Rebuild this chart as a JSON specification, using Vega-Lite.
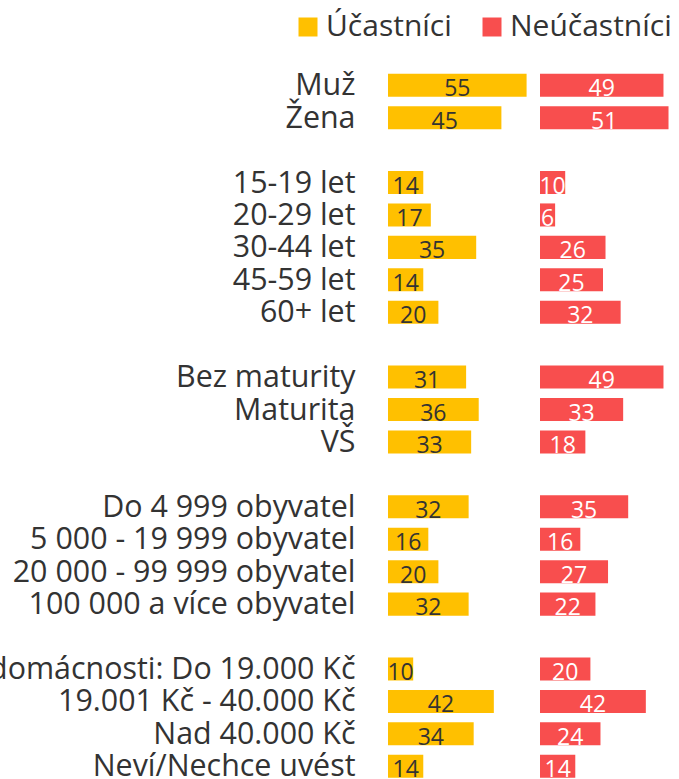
{
  "$schema": "https://vega.github.io/schema/vega-lite/v6.json",
  "autosize": {"type": "none"},
  "padding": {"left": 388, "top": 69, "right": 0, "bottom": 0},
  "width": 291,
  "height": 713.5,
  "config": {"view": {"stroke": null}, "font": "Open Sans"},
  "data": {"values": [
    {"cat": "Muž", "s": "Účastníci", "v": 55}, {"cat": "Muž", "s": "Neúčastníci", "v": 49},
    {"cat": "Žena", "s": "Účastníci", "v": 45}, {"cat": "Žena", "s": "Neúčastníci", "v": 51},
    {"cat": "15-19 let", "s": "Účastníci", "v": 14}, {"cat": "15-19 let", "s": "Neúčastníci", "v": 10},
    {"cat": "20-29 let", "s": "Účastníci", "v": 17}, {"cat": "20-29 let", "s": "Neúčastníci", "v": 6},
    {"cat": "30-44 let", "s": "Účastníci", "v": 35}, {"cat": "30-44 let", "s": "Neúčastníci", "v": 26},
    {"cat": "45-59 let", "s": "Účastníci", "v": 14}, {"cat": "45-59 let", "s": "Neúčastníci", "v": 25},
    {"cat": "60+ let", "s": "Účastníci", "v": 20}, {"cat": "60+ let", "s": "Neúčastníci", "v": 32},
    {"cat": "Bez maturity", "s": "Účastníci", "v": 31}, {"cat": "Bez maturity", "s": "Neúčastníci", "v": 49},
    {"cat": "Maturita", "s": "Účastníci", "v": 36}, {"cat": "Maturita", "s": "Neúčastníci", "v": 33},
    {"cat": "VŠ", "s": "Účastníci", "v": 33}, {"cat": "VŠ", "s": "Neúčastníci", "v": 18},
    {"cat": "Do 4 999 obyvatel", "s": "Účastníci", "v": 32}, {"cat": "Do 4 999 obyvatel", "s": "Neúčastníci", "v": 35},
    {"cat": "5 000 - 19 999 obyvatel", "s": "Účastníci", "v": 16}, {"cat": "5 000 - 19 999 obyvatel", "s": "Neúčastníci", "v": 16},
    {"cat": "20 000 - 99 999 obyvatel", "s": "Účastníci", "v": 20}, {"cat": "20 000 - 99 999 obyvatel", "s": "Neúčastníci", "v": 27},
    {"cat": "100 000 a více obyvatel", "s": "Účastníci", "v": 32}, {"cat": "100 000 a více obyvatel", "s": "Neúčastníci", "v": 22},
    {"cat": "Příjem domácnosti: Do 19.000 Kč", "s": "Účastníci", "v": 10}, {"cat": "Příjem domácnosti: Do 19.000 Kč", "s": "Neúčastníci", "v": 20},
    {"cat": "19.001 Kč - 40.000 Kč", "s": "Účastníci", "v": 42}, {"cat": "19.001 Kč - 40.000 Kč", "s": "Neúčastníci", "v": 42},
    {"cat": "Nad 40.000 Kč", "s": "Účastníci", "v": 34}, {"cat": "Nad 40.000 Kč", "s": "Neúčastníci", "v": 24},
    {"cat": "Neví/Nechce uvést", "s": "Účastníci", "v": 14}, {"cat": "Neví/Nechce uvést", "s": "Neúčastníci", "v": 14}
  ]},
  "encoding": {
    "y": {
      "field": "cat", "type": "nominal", "sort": null,
      "scale": {
        "domain": ["Muž", "Žena", " ", "15-19 let", "20-29 let", "30-44 let", "45-59 let", "60+ let", "  ", "Bez maturity", "Maturita", "VŠ", "   ", "Do 4 999 obyvatel", "5 000 - 19 999 obyvatel", "20 000 - 99 999 obyvatel", "100 000 a více obyvatel", "    ", "Příjem domácnosti: Do 19.000 Kč", "19.001 Kč - 40.000 Kč", "Nad 40.000 Kč", "Neví/Nechce uvést"],
        "paddingInner": 0.29, "paddingOuter": 0.145
      },
      "axis": {"title": null, "domain": false, "ticks": false, "labelFontSize": 30.4, "labelFont": "Open Sans", "labelColor": "#333333", "labelPadding": 33, "labelBaseline": "alphabetic", "labelOffset": 10, "labelLimit": 2000, "labelOverlap": false}
    }
  },
  "layer": [
    {
      "transform": [{"filter": "datum.s === 'Účastníci'"}],
      "layer": [
        {
          "mark": {"type": "bar"},
          "encoding": {
            "x": {"field": "v", "type": "quantitative", "scale": {"domain": [0, 115.48], "nice": false, "zero": false}, "axis": null},
            "color": {"field": "s", "type": "nominal", "scale": {"domain": ["Účastníci", "Neúčastníci"], "range": ["#FFC000", "#F84E4E"]},
              "legend": {"title": null, "orient": "none", "legendX": -95, "legendY": -57, "direction": "horizontal", "symbolType": "square", "symbolSize": 361, "symbolStrokeWidth": 0, "symbolOpacity": 1, "labelFontSize": 30, "labelFont": "Open Sans", "labelColor": "#333333", "labelOffset": 3, "labelLimit": 400, "columnPadding": 25, "padding": 0}}
          }
        },
        {
          "transform": [{"calculate": "datum.v / 2", "as": "mid"}],
          "mark": {"type": "text", "fontSize": 23, "color": "#333333", "baseline": "alphabetic", "dy": 11, "align": "center"},
          "encoding": {
            "x": {"field": "mid", "type": "quantitative", "scale": {"domain": [0, 115.48], "nice": false, "zero": false}, "axis": null},
            "text": {"field": "v", "type": "quantitative"}
          }
        }
      ]
    },
    {
      "transform": [{"filter": "datum.s === 'Neúčastníci'"}],
      "layer": [
        {
          "mark": {"type": "bar"},
          "encoding": {
            "x": {"field": "v", "type": "quantitative", "scale": {"domain": [-60.32, 55.16], "nice": false, "zero": false}, "axis": null},
            "color": {"field": "s", "type": "nominal"}
          }
        },
        {
          "transform": [{"calculate": "datum.v / 2", "as": "mid"}],
          "mark": {"type": "text", "fontSize": 23, "color": "#FFFFFF", "baseline": "alphabetic", "dy": 11, "align": "center"},
          "encoding": {
            "x": {"field": "mid", "type": "quantitative", "scale": {"domain": [-60.32, 55.16], "nice": false, "zero": false}, "axis": null},
            "text": {"field": "v", "type": "quantitative"}
          }
        }
      ]
    }
  ],
  "resolve": {"scale": {"x": "independent"}}
}
